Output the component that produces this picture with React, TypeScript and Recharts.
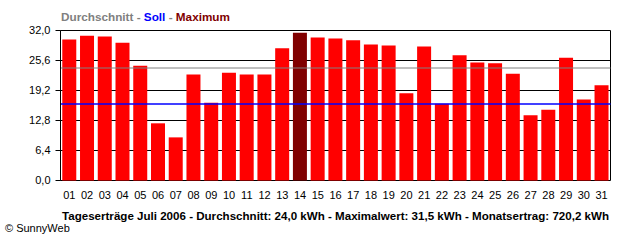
import { Bar, Cell, ComposedChart, CartesianGrid, ReferenceLine, XAxis, YAxis } from 'recharts'

const days = ['01', '02', '03', '04', '05', '06', '07', '08', '09', '10', '11', '12', '13', '14', '15', '16',
  '17', '18', '19', '20', '21', '22', '23', '24', '25', '26', '27', '28', '29', '30', '31']
const yields = [30.1, 30.9, 30.7, 29.4, 24.5, 12.2, 9.2, 22.6, 16.6, 23.0, 22.6, 22.6, 28.2, 31.5, 30.5, 30.3,
  29.9, 29.0, 28.8, 18.6, 28.6, 16.4, 26.7, 25.2, 25.0, 22.8, 13.9, 15.1, 26.2, 17.3, 20.3]
const yTicks = [0, 6.4, 12.8, 19.2, 25.6, 32]
const average = 24.0
const target = 16.3
const caption = 'Tageserträge Juli 2006 - Durchschnitt: 24,0 kWh - Maximalwert: 31,5 kWh - Monatsertrag: 720,2 kWh'

const data = days.map((day, i) => ({ day, value: yields[i] }))
const maxValue = Math.max(...yields)
// day boundaries for the vertical grid and the x tick marks
const edgeTicks = [0, ...days.map((_, i) => i + 1)]

const font = '"Liberation Sans", Arial, sans-serif'
const fmt = (v: number) => v.toFixed(1).replace('.', ',')

const App = () => {
  return (
    <div style={{ position: 'absolute', left: 0, top: 0, width: 640, height: 240, background: '#fff' }}>
      <ComposedChart width={640} height={240} data={data}
        margin={{ top: 30.5, right: 29.5, left: 0, bottom: 29.5 }}
        style={{ fontFamily: font }}>
        <CartesianGrid xAxisId="edges" stroke="#000" strokeOpacity={1} />
        <XAxis xAxisId="edges" type="number" domain={[0, 31]} ticks={edgeTicks} interval={0}
          allowDataOverflow tick={false} height={0} tickSize={5} stroke="#000" />
        <XAxis dataKey="day" interval={0} height={30} tickLine={false} axisLine={false}
          tickSize={0} tickMargin={11} tick={{ fill: '#000', fontSize: 11 }} />
        <YAxis width={60.5} domain={[0, 32]} ticks={yTicks} interval={0} tickFormatter={fmt}
          tickSize={5} tickMargin={5} stroke="#000" tick={{ fill: '#000', fontSize: 11 }} />
        <Bar dataKey="value" barCategoryGap={1.5} isAnimationActive={false}>
          {data.map((d) => (
            <Cell key={d.day} fill={d.value === maxValue ? '#800000' : '#ff0000'} />
          ))}
        </Bar>
        <ReferenceLine y={average} stroke="#808080" strokeWidth={1} />
        <ReferenceLine y={target} stroke="#0000ff" strokeWidth={1.5} />
      </ComposedChart>
      <svg width={640} height={240} style={{ position: 'absolute', left: 0, top: 0, pointerEvents: 'none' }}>
        <text x={61} y={20.5} fontFamily={font} fontSize={11} fontWeight="bold" textLength={169} lengthAdjust="spacingAndGlyphs">
          <tspan fill="#808080">Durchschnitt - </tspan>
          <tspan fill="#0000ff">Soll</tspan>
          <tspan fill="#808080"> - </tspan>
          <tspan fill="#800000">Maximum</tspan>
        </text>
        <text x={62} y={219.5} fontFamily={font} fontSize={11} fontWeight="bold" fill="#000"
          textLength={547} lengthAdjust="spacingAndGlyphs">{caption}</text>
        <text x={5} y={232} fontFamily={font} fontSize={11} fill="#000">© SunnyWeb</text>
      </svg>
    </div>
  )
}

export default App
